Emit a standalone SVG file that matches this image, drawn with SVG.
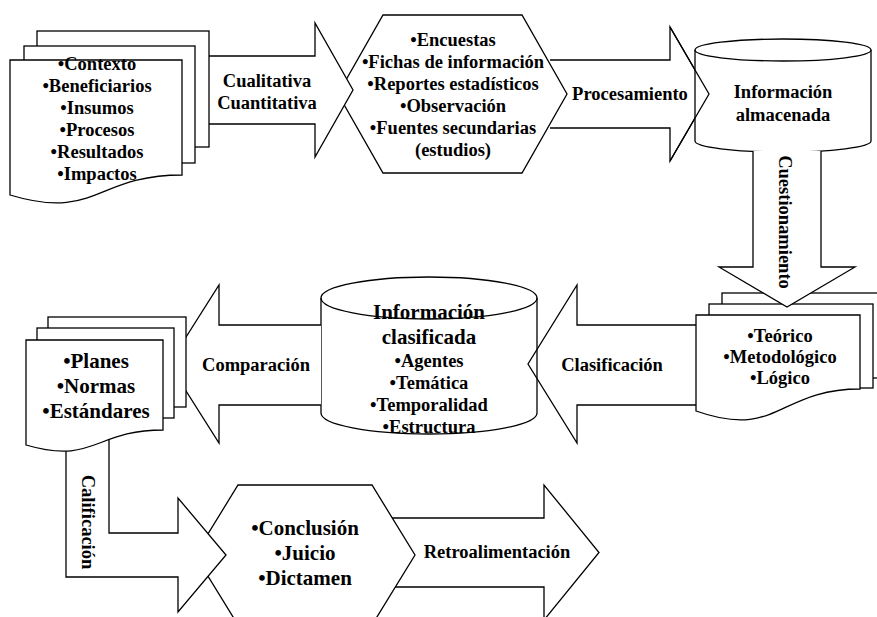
<svg xmlns="http://www.w3.org/2000/svg" width="877" height="617" viewBox="0 0 877 617">
<style>
.s{fill:#fff;stroke:#000;stroke-width:1.3;stroke-linejoin:miter}
.n{fill:none;stroke:#000;stroke-width:1.3}
text{font-family:"Liberation Serif","Times New Roman",serif;font-weight:bold;font-size:18.5px;text-anchor:middle;fill:#000}
.b{font-size:21px}
</style>
<rect width="877" height="617" fill="#fff"/>
<g id="connectors">
  <path id="arrow-procesamiento" class="s" d="M550,60 H670 V27 L709,94 L670,161 V128 H550"/>
</g>
<g id="node-almacenada">
  <path class="s" d="M695,50 V141 A88,11 0 0 0 871,141 V50 A88,11 0 0 0 695,50 Z"/>
  <path class="n" d="M695,50 A88,11 0 0 0 871,50"/>
  <text x="783" y="98">Información</text>
  <text x="783" y="121">almacenada</text>
</g>
<g id="connectors-2">
  <path id="arrow-procesamiento-head" class="n" d="M670,27 L709,94 L670,161"/>
</g>
<g id="node-fuentes">
  <polygon class="s" points="383,15 522,15 567,94 522,173 383,173 338,94"/>
</g>
<g id="connectors-3">
  <path id="arrow-cualitativa" class="s" d="M209,56 H315 V23 L353,90 L315,157 V124 H209"/>
</g>
<g id="node-fuentes-text">
  <text x="453" y="46">•Encuestas</text>
  <text x="453" y="68">•Fichas de información</text>
  <text x="453" y="90">•Reportes estadísticos</text>
  <text x="453" y="112">•Observación</text>
  <text x="453" y="134">•Fuentes secundarias</text>
  <text x="453" y="156">(estudios)</text>
</g>
<g id="node-contexto">
  <rect class="s" x="37" y="31" width="172" height="116"/>
  <rect class="s" x="24" y="46" width="171" height="117"/>
  <path class="s" d="M10,60 H182 V175 C96,175 96,221 10,195 Z"/>
  <text x="97" y="70">•Contexto</text>
  <text x="97" y="92">•Beneficiarios</text>
  <text x="97" y="114">•Insumos</text>
  <text x="97" y="136">•Procesos</text>
  <text x="97" y="158">•Resultados</text>
  <text x="97" y="180">•Impactos</text>
</g>
<g id="node-teorico">
  <rect class="s" x="722" y="293" width="170" height="85"/>
  <rect class="s" x="709" y="304" width="164" height="84"/>
  <path class="s" d="M696,315 H860 V389 C778,389 778,440 696,411 Z"/>
  <text x="780" y="342">•Teórico</text>
  <text x="780" y="363">•Metodológico</text>
  <text x="780" y="384">•Lógico</text>
</g>
<g id="connectors-4">
  <path id="arrow-cuestionamiento" class="s" d="M753,151 V267 H719 L787,307 L855,267 H821 V151"/>
</g>
<g id="node-clasificada">
  <path class="s" d="M321,298 V413 A108,21 0 0 0 537,413 V298 A108,21 0 0 0 321,298 Z"/>
  <path class="n" d="M321,298 A108,21 0 0 0 537,298"/>
</g>
<g id="connectors-5">
  <path id="arrow-clasificacion" class="n" d="M696,325 H577 V285 L528,364 L577,443 V405 H696"/>
  <path id="arrow-comparacion" class="s" d="M321,325 H219 V285 L169,364 L219,443 V405 H321"/>
  <path id="arrow-retro" class="s" d="M380,518 H544 V485 L599,552.5 L544,620 V587 H380"/>
</g>
<g id="node-clasificada-text">
  <text class="b" x="429" y="319">Información</text>
  <text class="b" x="429" y="344">clasificada</text>
  <text x="429" y="367">•Agentes</text>
  <text x="429" y="389">•Temática</text>
  <text x="429" y="411">•Temporalidad</text>
  <text x="429" y="433">•Estructura</text>
</g>
<g id="node-conclusion">
  <polygon class="s" points="238,485 372,485 415,555 372,625 238,625 195,555"/>
</g>
<g id="connectors-6">
  <path id="arrow-calificacion" class="s" d="M66,430 V577 H178 V612 L226,555 L178,498 V533 H109 V430"/>
</g>
<g id="node-planes">
  <rect class="s" x="48" y="317" width="138" height="90"/>
  <rect class="s" x="37" y="328" width="137" height="90"/>
  <path class="s" d="M26,340 H163 V430 C94.5,430 94.5,465 26,445 Z"/>
  <text class="b" x="96" y="368">•Planes</text>
  <text class="b" x="96" y="393">•Normas</text>
  <text class="b" x="96" y="418">•Estándares</text>
</g>
<g id="node-conclusion-text">
  <text class="b" x="305" y="535">•Conclusión</text>
  <text class="b" x="305" y="560">•Juicio</text>
  <text class="b" x="305" y="585">•Dictamen</text>
</g>
<g id="labels">
  <text x="267" y="87">Cualitativa</text>
  <text x="267" y="109">Cuantitativa</text>
  <text x="630" y="100">Procesamiento</text>
  <text x="612" y="371">Clasificación</text>
  <text x="256" y="371">Comparación</text>
  <text x="497" y="558">Retroalimentación</text>
  <text transform="translate(779,222) rotate(90)">Cuestionamiento</text>
  <text transform="translate(82,522) rotate(90)">Calificación</text>
</g>
</svg>
